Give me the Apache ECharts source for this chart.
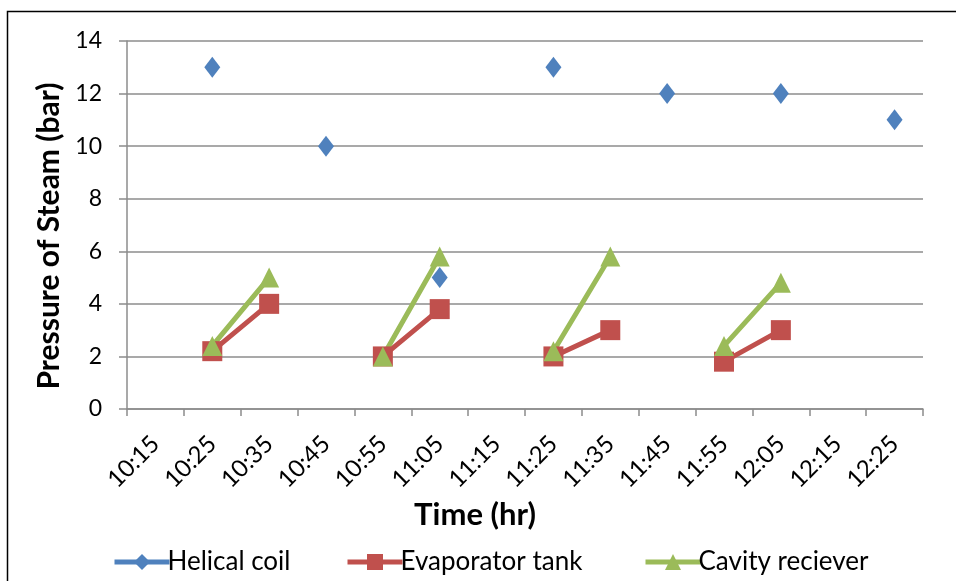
<!DOCTYPE html>
<html>
<head>
<meta charset="utf-8">
<script src="https://cdn.jsdelivr.net/npm/echarts@6/dist/echarts.min.js"></script>
<style>
html,body{margin:0;padding:0;background:#fff;}
#main{width:956px;height:581px;}
</style>
</head>
<body>
<div id="main"></div>
<script>
var categories = ['10:15','10:25','10:35','10:45','10:55','11:05','11:15','11:25','11:35','11:45','11:55','12:05','12:15','12:25'];
var helicalCoil = [null,13,null,10,null,5,null,13,null,12,null,12,null,11];
var evaporatorTank = [null,2.2,4,null,2,3.8,null,2,3,null,1.8,3,null,null];
var cavityReciever = [null,2.4,5,null,2,5.8,null,2.2,5.8,null,2.4,4.8,null,null];
var yTicks = [0,2,4,6,8,10,12,14];

var FONT = 'Lato';
var chart = echarts.init(document.getElementById('main'), null, {renderer:'canvas'});
function legendAt(left, name){
  return {
    left: left, top: 544, data: [name],
    itemWidth: 55, itemHeight: 20, itemGap: 0,
    lineStyle: {width: 5},
    textStyle: {fontFamily: FONT, fontSize: 26, color: '#000', padding: [0,0,0,-7]}
  };
}
chart.setOption({
  animation: false,
  backgroundColor: '#fff',
  textStyle: {fontFamily: FONT},
  graphic: [{
    type: 'rect', silent: true,
    shape: {x: 7.5, y: 11.5, width: 1200, height: 1200},
    style: {fill: 'none', stroke: '#000', lineWidth: 1.5}
  }],
  grid: {left: 127, right: 33, top: 41, bottom: 172, containLabel: false},
  legend: [legendAt(107,'Helical coil'), legendAt(340,'Evaporator tank'), legendAt(638,'Cavity reciever')],
  xAxis: {
    type: 'category', data: categories, boundaryGap: true,
    name: 'Time (hr)', nameLocation: 'middle', nameGap: 90,
    nameTextStyle: {fontFamily: FONT, fontSize: 31, fontWeight: 'bold', color: '#000', padding: [0,100,0,0]},
    axisLine: {lineStyle: {color: '#8c8c8c', width: 1.5}},
    axisTick: {show: true, length: 7, lineStyle: {color: '#8c8c8c', width: 1.5}},
    axisLabel: {rotate: 45, interval: 0, margin: 31, fontFamily: FONT, fontSize: 24, color: '#000'},
    splitLine: {show: false}
  },
  yAxis: {
    type: 'value', min: 0, max: 14, interval: 2,
    name: 'Pressure of Steam (bar)', nameLocation: 'middle', nameGap: 63,
    nameTextStyle: {fontFamily: FONT, fontSize: 30, fontWeight: 'bold', color: '#000', padding: [0,22,0,0]},
    axisLine: {show: true, lineStyle: {color: '#8c8c8c', width: 1.5}},
    axisTick: {show: true, length: 8, lineStyle: {color: '#8c8c8c', width: 1.5}},
    axisLabel: {margin: 25, fontFamily: FONT, fontSize: 23, color: '#000',
      formatter: function(v){ return yTicks.indexOf(v) >= 0 ? String(v) : ''; }},
    splitLine: {show: true, lineStyle: {color: '#8c8c8c', width: 1.5}}
  },
  series: [
    {name: 'Helical coil', type: 'line', data: helicalCoil, connectNulls: false,
     symbol: 'diamond', symbolSize: [16, 21], showSymbol: true,
     itemStyle: {color: '#4F81BD'}, lineStyle: {color: '#4F81BD', width: 5}},
    {name: 'Evaporator tank', type: 'line', data: evaporatorTank, connectNulls: false,
     symbol: 'rect', symbolSize: 20, showSymbol: true,
     itemStyle: {color: '#C0504D'}, lineStyle: {color: '#C0504D', width: 5}},
    {name: 'Cavity reciever', type: 'line', data: cavityReciever, connectNulls: false,
     symbol: 'triangle', symbolSize: [20, 20], showSymbol: true,
     itemStyle: {color: '#9BBB59'}, lineStyle: {color: '#9BBB59', width: 5}}
  ]
});
</script>
</body>
</html>
